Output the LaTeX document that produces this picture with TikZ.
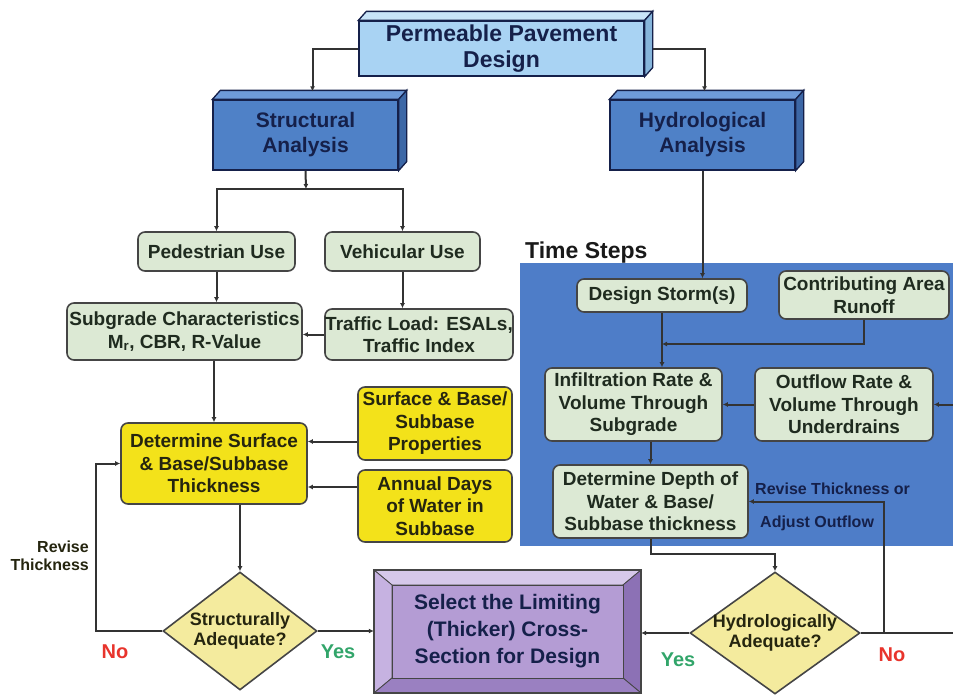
\documentclass[tikz,border=0pt]{standalone}
\usepackage{fontspec}
\setmainfont{Liberation Sans}
\usetikzlibrary{shapes.geometric, arrows.meta}

\definecolor{sage}{HTML}{DCE9D4}
\definecolor{lemon}{HTML}{F3E21A}
\definecolor{paleyellow}{HTML}{F4EB9E}
\definecolor{stepblue}{HTML}{4E7DC8}
\definecolor{anafront}{HTML}{4F81C7}
\definecolor{anatop}{HTML}{6E9BDA}
\definecolor{anaside}{HTML}{3C67A6}
\definecolor{designfront}{HTML}{A9D3F3}
\definecolor{designtop}{HTML}{C8E4F8}
\definecolor{designside}{HTML}{86B5DB}
\definecolor{lilac}{HTML}{B49CD4}
\definecolor{lilactop}{HTML}{D6C8EA}
\definecolor{lilacleft}{HTML}{C6B2E1}
\definecolor{lilacright}{HTML}{8C71B5}
\definecolor{lilacbottom}{HTML}{9A80C1}
\definecolor{boxline}{HTML}{454545}
\definecolor{linegray}{HTML}{333333}
\definecolor{navy}{HTML}{15204A}
\definecolor{greentext}{HTML}{1F2B1F}
\definecolor{darktext}{HTML}{25250F}
\definecolor{noRed}{HTML}{E8342C}
\definecolor{yesGreen}{HTML}{32A56A}

\begin{document}
\begin{tikzpicture}[
  x = 1pt,
  y = -1pt,
  basebox/.style = {
    shape = rectangle,
    draw = boxline,
    line width = 1.6pt,
    rounded corners = 7pt,
    inner sep = 0pt,
    align = center,
    font = \fontsize{19}{22.5}\selectfont\bfseries
  },
  greenbox/.style = {
    basebox,
    fill = sage,
    text = greentext
  },
  yellowbox/.style = {
    basebox,
    fill = lemon,
    text = darktext
  },
  analysis/.style = {
    shape = rectangle,
    draw = navy,
    line width = 1.3pt,
    inner sep = 0pt,
    align = center,
    text = navy,
    font = \fontsize{21}{25}\selectfont\bfseries
  },
  decision/.style = {
    shape = diamond,
    aspect = 1.3,
    draw = boxline,
    line width = 1.6pt,
    fill = paleyellow,
    inner sep = -4pt,
    align = center,
    text = darktext,
    font = \fontsize{18}{20}\selectfont\bfseries
  },
  note/.style = {
    align = center,
    inner sep = 0pt,
    text = darktext,
    font = \fontsize{16}{18}\selectfont\bfseries
  },
  answer/.style = {
    inner sep = 0pt,
    font = \fontsize{20}{24}\selectfont\bfseries
  },
  wire/.style = {
    draw = linegray,
    line width = 2pt
  },
  link/.style = {
    wire,
    -{Latex[length = 5pt, width = 5pt]}
  }
]
  \useasboundingbox (0, 0) rectangle (953, 696);

  \fill[stepblue] (520, 263) rectangle (953, 546);
  \node[anchor = west, inner sep = 0pt, font = \fontsize{23}{26}\selectfont\bfseries, text = black!90] (timesteps) at (525, 253) {Time Steps};

  \node[analysis, fill = designfront, minimum width = 285pt, minimum height = 55pt, font = \fontsize{23}{26}\selectfont\bfseries] (design) at (501.5, 48.5) {Permeable Pavement\\Design};
  \node[analysis, fill = anafront, minimum width = 185pt, minimum height = 70pt] (struct) at (305.5, 135) {Structural\\Analysis};
  \node[analysis, fill = anafront, minimum width = 185pt, minimum height = 70pt] (hydro) at (702.5, 135) {Hydrological\\Analysis};

  \foreach \b/\t/\s in {design/designtop/designside, struct/anatop/anaside, hydro/anatop/anaside} {
    \draw[draw = navy, line width = 1.3pt, fill = \t] (\b.north west) -- ([shift = {(8, -9)}]\b.north west) -- ([shift = {(8, -9)}]\b.north east) -- (\b.north east) -- cycle;
    \draw[draw = navy, line width = 1.3pt, fill = \s] (\b.north east) -- ([shift = {(8, -9)}]\b.north east) -- ([shift = {(8, -9)}]\b.south east) -- (\b.south east) -- cycle;
  }

  \node[greenbox, minimum width = 157pt, minimum height = 39pt] (ped) at (216.5, 251.5) {Pedestrian Use};
  \node[greenbox, minimum width = 155pt, minimum height = 39pt] (veh) at (402.5, 251.5) {Vehicular Use};
  \node[greenbox, minimum width = 235pt, minimum height = 57pt] (subgrade) at (184.5, 331.5) {Subgrade Characteristics\\M\textsubscript{r}, CBR, R-Value};
  \node[greenbox, minimum width = 188pt, minimum height = 51pt] (traffic) at (419, 334.5) {Traffic Load: ESALs,\\Traffic Index};

  \node[yellowbox, minimum width = 186pt, minimum height = 81pt] (detsurf) at (214, 463.5) {Determine Surface\\\& Base/Subbase\\Thickness};
  \node[yellowbox, minimum width = 154pt, minimum height = 73pt] (props) at (435, 423.5) {Surface \& Base/\\Subbase\\Properties};
  \node[yellowbox, minimum width = 154pt, minimum height = 72pt] (annual) at (435, 506) {Annual Days\\of Water in\\Subbase};

  \node[decision, minimum width = 154pt, minimum height = 118pt] (sadq) at (240, 631) {Structurally\\Adequate?};
  \node[decision, minimum width = 170pt, minimum height = 122pt] (hadq) at (775, 633) {Hydrologically\\Adequate?};

  \draw[draw = boxline, line width = 0.8pt, fill = lilactop] (374, 570) -- (641, 570) -- (623, 585) -- (392, 585) -- cycle;
  \draw[draw = boxline, line width = 0.8pt, fill = lilacleft] (374, 570) -- (392, 585) -- (392, 678) -- (374, 693) -- cycle;
  \draw[draw = boxline, line width = 0.8pt, fill = lilacright] (641, 570) -- (641, 693) -- (623, 678) -- (623, 585) -- cycle;
  \draw[draw = boxline, line width = 0.8pt, fill = lilacbottom] (374, 693) -- (641, 693) -- (623, 678) -- (392, 678) -- cycle;
  \draw[draw = boxline, line width = 0.8pt, fill = lilac] (392, 585) rectangle (623, 678);
  \draw[draw = boxline, line width = 1.6pt] (374, 570) rectangle (641, 693);
  \node[shape = rectangle, inner sep = 0pt, minimum width = 267pt, minimum height = 123pt, align = center, text = navy, font = \fontsize{21}{27}\selectfont\bfseries] (select) at (507.5, 631.5) {Select the Limiting\\(Thicker) Cross-\\Section for Design};

  \node[greenbox, minimum width = 170pt, minimum height = 33pt] (storm) at (662, 295.5) {Design Storm(s)};
  \node[greenbox, minimum width = 170pt, minimum height = 48pt] (contrib) at (864, 295) {Contributing Area\\Runoff};
  \node[greenbox, minimum width = 177pt, minimum height = 73pt] (infil) at (633.5, 404.5) {Infiltration Rate \&\\Volume Through\\Subgrade};
  \node[greenbox, minimum width = 178pt, minimum height = 73pt] (outflow) at (844, 404.5) {Outflow Rate \&\\Volume Through\\Underdrains};
  \node[greenbox, minimum width = 195pt, minimum height = 73pt] (depth) at (650.5, 501.5) {Determine Depth of\\Water \& Base/\\Subbase thickness};

  \coordinate (split) at (306, 189);
  \coordinate (merge) at (662, 344);
  \coordinate (rightin) at (953, 404.5);
  \coordinate (rightout) at (953, 633);
  \coordinate (turn) at (884, 633);

  \draw[link] (design.west) -| ([shift = {(7, -8)}]struct.north);
  \draw[link] ([xshift = 8pt]design.east) -| ([shift = {(2, -8)}]hydro.north);
  \draw[link] (struct.south) -- (split);
  \draw[link] (split) -| (ped.north);
  \draw[link] (split) -| (veh.north);
  \draw[link] (ped.south) -- (ped.south |- subgrade.north);
  \draw[link] (veh.south) -- (veh.south |- traffic.north);
  \draw[link] (traffic.west) -- (traffic.west -| subgrade.east);
  \draw[link] (subgrade.south -| detsurf.north) -- (detsurf.north);
  \draw[link] ([yshift = -18pt]props.west) -- ([yshift = -18pt]props.west -| detsurf.east);
  \draw[link] ([yshift = 19pt]annual.west) -- ([yshift = 19pt]annual.west -| detsurf.east);
  \draw[link] (sadq.north |- detsurf.south) -- (sadq.north);
  \draw[link] (sadq.west) -- ++(-66, 0) |- (detsurf.west);
  \draw[link] (sadq.east) -- (sadq.east -| select.west);

  \draw[link] (hydro.south) -- (hydro.south |- storm.north);
  \draw[link] (storm.south) -- (storm.south |- infil.north);
  \draw[link] (contrib.south) |- (merge);
  \draw[link] (rightin) -- (outflow.east);
  \draw[link] (outflow.west) -- (infil.east);
  \draw[link] (depth.north |- infil.south) -- (depth.north);
  \draw[link] (depth.south) -- ++(0, 15) -| (hadq.north);
  \draw[link] (hadq.west) -- (hadq.west -| select.east);
  \draw[wire] (hadq.east) -- (rightout);
  \draw[link] (turn) |- (depth.east);

  \node[note, anchor = east, align = right] (revise) at (89, 556) {Revise\\Thickness};
  \node[answer, text = noRed] (noleft) at (115, 652) {No};
  \node[answer, text = yesGreen] (yesleft) at (338, 652) {Yes};
  \node[answer, text = yesGreen] (yesright) at (678, 660) {Yes};
  \node[answer, text = noRed] (noright) at (892, 655) {No};
  \node[note, anchor = west, text = navy] (revisetop) at (755, 489) {Revise Thickness or};
  \node[note, anchor = west, text = navy] (adjust) at (760, 523) {Adjust Outflow};
\end{tikzpicture}
\end{document}
